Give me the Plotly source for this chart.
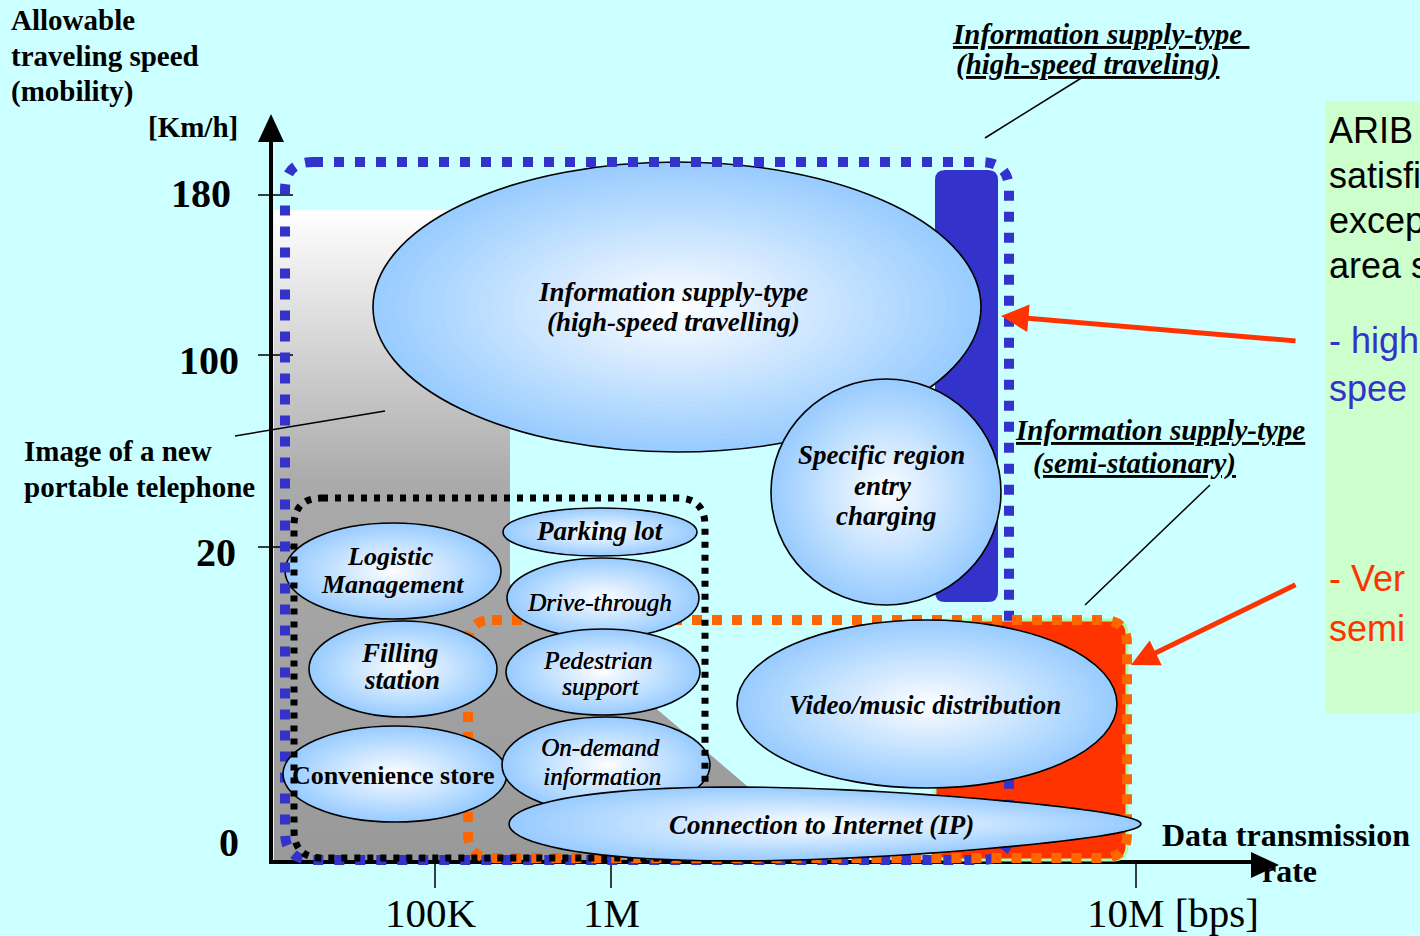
import math
import plotly.graph_objects as go

# ---------------- data (text content) ----------------
speed_ticks = ["180", "100", "20", "0"]
rate_ticks = ["100K", "1M", "10M [bps]"]
y_title_lines = ["Allowable", "traveling speed", "(mobility)"]
y_unit = "[Km/h]"
x_title_lines = ["Data transmission", "rate"]
phone_lines = ["Image of a new", "portable telephone"]
high_speed_lines = ["Information supply-type ", "(high-speed traveling)"]
semi_lines = ["Information supply-type", "(semi-stationary)"]
arib_black = ["ARIB", "satisfi", "excep", "area s"]
arib_blue = ["- high", "spee"]
arib_red = ["- Ver", "semi"]
service_names = [
    ["Information supply-type", "(high-speed travelling)"],
    ["Specific region", "entry", "charging"],
    ["Logistic", "Management"],
    ["Convenience store"],
    ["Filling", "station"],
    ["Parking lot"],
    ["Drive-through"],
    ["Pedestrian", "support"],
    ["On-demand", "information"],
    ["Video/music distribution"],
    ["Connection to Internet (IP)"],
]

# ---------------- layout geometry (pixel-like axis space) ----------------
W, H = 1420, 936
SERIF = "Liberation Serif, Times New Roman, serif"
SANS = "Liberation Sans, Arial, sans-serif"
BLUE = "#3333CC"
RED = "#FF3300"
ORANGE = "#FF6600"

speed_tick_y = [195, 355, 547]
speed_label_xy = [(233, 193), (241, 360), (238, 552), (241, 842)]
rate_tick_x = [435, 611, 1136]
rate_label_xy = [(431, 913, "center"), (611, 913, "center"), (1085, 913, "left")]

# ellipse geometry: cx, cy, rx, ry, taper
ell_geom = [
    (677, 307, 304, 145, 0.0),
    (886, 492, 115, 113, 0.0),
    (393, 571, 108, 48, 0.0),
    (395, 774, 112, 48, 0.0),
    (403, 669, 94, 48, 0.0),
    (600, 532, 97, 24, 0.0),
    (603, 598, 96, 40, 0.0),
    (603, 672, 97, 43, 0.0),
    (606, 765, 104, 48, 0.0),
    (927, 704, 190, 84, 0.0),
    (825, 824, 316, 35, 0.35),
]
ell_text_xy = [
    [(673, 292), (673, 322)],
    [(881, 455), (883, 486), (886, 516)],
    [(390, 556), (392, 584)],
    [(393, 775)],
    [(400, 653), (402, 680)],
    [(600, 531)],
    [(599, 602)],
    [(597, 660), (600, 686)],
    [(600, 747), (602, 776)],
    [(925, 705)],
    [(821, 825)],
]
# (size, weight, style, shadow)
MED = "0.5px 0 0 #000"
ell_text_style = [
    (27, "bold", "italic", "none"), (27, "bold", "italic", "none"), (26, "bold", "italic", "none"),
    (26, "bold", "normal", "none"), (27, "bold", "italic", "none"), (27, "bold", "italic", "none"),
    (25, "normal", "italic", MED), (25, "normal", "italic", MED), (25, "normal", "italic", MED),
    (27, "bold", "italic", "none"), (27, "bold", "italic", "none"),
]

EDGE = (153, 204, 255)


def egg_path(cx, cy, rx, ry, taper):
    pts = []
    for i in range(96):
        t = 2 * math.pi * i / 96
        c, s = math.cos(t), math.sin(t)
        pts.append((cx + rx * c, cy + ry * s * (1 - taper * c)))
    return "M" + " L".join(f"{x:.1f},{y:.1f}" for x, y in pts) + " Z"


def ellipse_shapes(cx, cy, rx, ry, taper=0.0, n=26):
    out = []
    for k in range(n):
        s = 1 - k / n
        f = s
        col = "rgb(%d,%d,%d)" % tuple(round(255 + (e - 255) * f) for e in EDGE)
        ln = dict(color="black", width=1.6) if k == 0 else dict(width=0)
        if taper:
            out.append(dict(type="path", path=egg_path(cx, cy, rx * s, ry * s, taper),
                            fillcolor=col, line=ln))
        else:
            out.append(dict(type="circle", x0=cx - rx * s, x1=cx + rx * s,
                            y0=cy - ry * s, y1=cy + ry * s, fillcolor=col, line=ln))
    return out


def rrect(x0, y0, x1, y1, r):
    return (f"M{x0 + r},{y0} L{x1 - r},{y0} Q{x1},{y0} {x1},{y0 + r} "
            f"L{x1},{y1 - r} Q{x1},{y1} {x1 - r},{y1} L{x0 + r},{y1} "
            f"Q{x0},{y1} {x0},{y1 - r} L{x0},{y0 + r} Q{x0},{y0} {x0 + r},{y0} Z")


fig = go.Figure()
shapes = []
ann = []


def txt(x, y, s, size, weight="normal", style="normal", color="black",
        xanchor="center", family=SERIF, underline=False, shadow="none"):
    if underline:
        s = f"<u>{s}</u>"
    ann.append(dict(x=x, y=y, xref="x", yref="y", text=s, showarrow=False,
                    xanchor=xanchor, yanchor="middle",
                    font=dict(family=family, size=size, color=color,
                              weight=weight, style=style, shadow=shadow)))


# ARIB box
shapes.append(dict(type="rect", x0=1326, x1=1430, y0=101, y1=713,
                   fillcolor="#CCFFCC", line=dict(width=0), layer="below"))

# gray "image of a new portable telephone" region
gx = [274, 510, 510, 760, 790, 790, 274, 274]
gy = [210, 210, 584, 797, 815, 862, 862, 210]
fig.add_trace(go.Scatter(
    x=gx, y=gy, mode="lines", fill="toself", line=dict(width=0),
    fillgradient=dict(type="vertical",
                      colorscale=[[0, "#FFFFFF"], [0.42, "#AAAAAA"], [1, "#999999"]],
                      start=210, stop=862),
    hoverinfo="skip", showlegend=False))

# axes
shapes.append(dict(type="line", x0=271, x1=271, y0=864, y1=138, line=dict(color="black", width=4)))
shapes.append(dict(type="path", path="M271,114 L284,142 L258,142 Z", fillcolor="black", line=dict(width=0)))
shapes.append(dict(type="line", x0=269, x1=1256, y0=862, y1=862, line=dict(color="black", width=4)))
shapes.append(dict(type="path", path="M1279,865 L1251,852 L1251,878 Z", fillcolor="black", line=dict(width=0)))
for yy in speed_tick_y:
    shapes.append(dict(type="line", x0=258, x1=293, y0=yy, y1=yy, line=dict(color="black", width=1.5)))
for xx in rate_tick_x:
    shapes.append(dict(type="line", x0=xx, x1=xx, y0=862, y1=888, line=dict(color="black", width=1.5)))

# red semi-stationary region and blue high-speed bar
shapes.append(dict(type="path", path=rrect(935, 620, 1127, 860, 14), fillcolor=RED,
                   line=dict(color="#A8FFA8", width=3)))
shapes.append(dict(type="path", path=rrect(935, 170, 998, 602, 10), fillcolor=BLUE,
                   line=dict(width=0)))


def add_ell(i):
    shapes.extend(ellipse_shapes(*ell_geom[i]))


for i in (0, 1, 2):
    add_ell(i)

shapes.append(dict(type="path", path=rrect(285, 162, 1009, 860, 28), fillcolor="rgba(0,0,0,0)",
                   line=dict(color=BLUE, width=10, dash="10px,11px")))
shapes.append(dict(type="path", path=rrect(468, 620, 1127, 858, 24), fillcolor="rgba(0,0,0,0)",
                   line=dict(color=ORANGE, width=10, dash="10px,10px")))

for i in (3, 4, 5, 6, 7, 8, 9):
    add_ell(i)

shapes.append(dict(type="path", path=rrect(294, 498, 705, 858, 28), fillcolor="rgba(0,0,0,0)",
                   line=dict(color="black", width=7, dash="6px,7px")))

add_ell(10)

# pointer lines
for (x0, y0, x1, y1) in [(235, 436, 385, 411), (985, 138, 1083, 77), (1085, 605, 1210, 485)]:
    shapes.append(dict(type="line", x0=x0, y0=y0, x1=x1, y1=y1, line=dict(color="black", width=1.5)))

# red arrows
for (tx, ty, hx, hy) in [(1297, 341, 1001, 316), (1297, 584, 1131, 665)]:
    ann.append(dict(x=hx, y=hy, ax=tx, ay=ty, xref="x", yref="y", axref="x", ayref="y",
                    text="", showarrow=True, arrowhead=2, arrowsize=1.1, arrowwidth=5,
                    arrowcolor=RED, standoff=0, startstandoff=0))

# ellipse labels
for lines, pos, (sz, wt, st, sh) in zip(service_names, ell_text_xy, ell_text_style):
    for s, (x, y) in zip(lines, pos):
        txt(x, y, s, sz, wt, st, shadow=sh)

# axis texts
for s, y in zip(y_title_lines, [20, 56, 91]):
    txt(9, y, s, 29, "bold", xanchor="left")
txt(240, 127, y_unit, 29, "bold", xanchor="right")
for s, (x, y) in zip(speed_ticks, speed_label_xy):
    txt(x, y, s, 40, "bold", xanchor="right")
for s, (x, y, xa) in zip(rate_ticks, rate_label_xy):
    txt(x, y, s, 41, xanchor=xa)
txt(1160, 835, x_title_lines[0], 32, "bold", xanchor="left")
txt(1260, 871, x_title_lines[1], 32, "bold", xanchor="left")
for s, y in zip(phone_lines, [451, 487]):
    txt(22, y, s, 29, "bold", xanchor="left")
txt(950, 34, high_speed_lines[0], 29, "bold", "italic", xanchor="left", underline=True)
txt(954, 64, high_speed_lines[1], 29, "bold", "italic", xanchor="left", underline=True)
txt(1013, 430, semi_lines[0], 29, "bold", "italic", xanchor="left", underline=True)
txt(1031, 463, semi_lines[1], 29, "bold", "italic", xanchor="left", underline=True)

# ARIB box texts (cut off by the page edge, as in the source slide)
for s, y in zip(arib_black, [130, 175, 220, 265]):
    txt(1327, y, s, 36, xanchor="left", family=SANS)
for s, y in zip(arib_blue, [340, 388]):
    txt(1327, y, s, 36, color=BLUE, xanchor="left", family=SANS)
for s, y in zip(arib_red, [578, 628]):
    txt(1327, y, s, 36, color=RED, xanchor="left", family=SANS)

fig.update_layout(
    width=W, height=H, margin=dict(l=0, r=0, t=0, b=0),
    paper_bgcolor="#CCFFFF", plot_bgcolor="#CCFFFF",
    xaxis=dict(range=[0, W], visible=False, fixedrange=True),
    yaxis=dict(range=[H, 0], visible=False, fixedrange=True),
    shapes=shapes, annotations=ann, showlegend=False,
)
fig.write_html("out.html")
